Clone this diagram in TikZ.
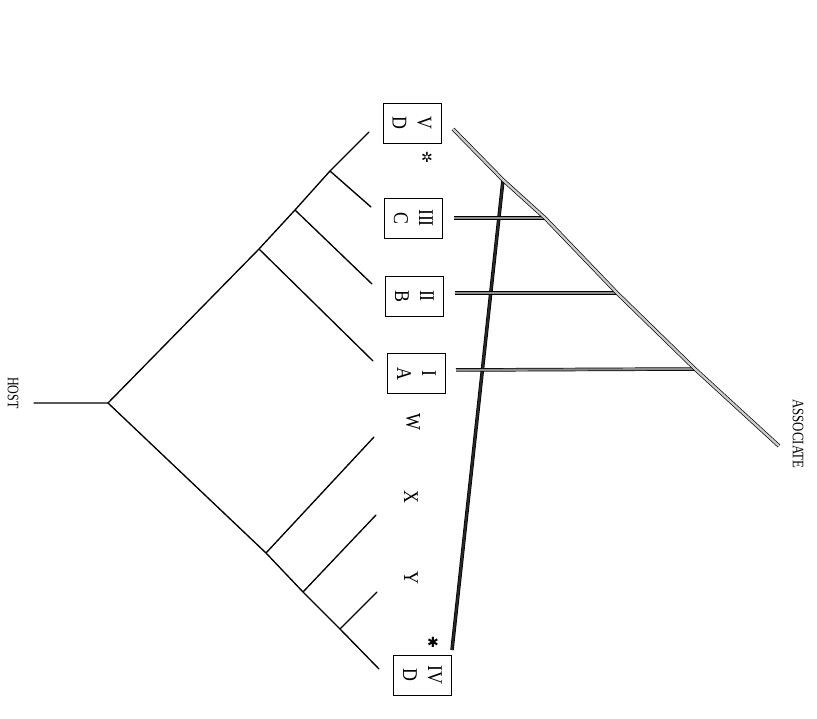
\documentclass[tikz,border=0pt]{standalone}
\usepackage{graphicx}
\usepackage{fontspec}
\setmainfont{Liberation Serif}
\newfontfamily\symfont{DejaVu Sans}
% narrow lettering, as set by the original typewriter face
\newcommand{\narrowtext}[2][0.85]{\scalebox{#1}[1]{#2}}
\begin{document}
\begin{tikzpicture}[x=1pt,y=-1pt,
  hostline/.style={line width=1.35pt,line join=round,line cap=round},
  assocline/.style={draw=black,line width=0.7pt,double=gray!40,double distance=2.3pt,line join=round},
  assocdark/.style={draw=black,line width=0.7pt,double=black!45,double distance=2.1pt,line join=round},
  assocblack/.style={draw=black,line width=0.7pt,double=black!85,double distance=2.1pt,line join=round},
  taxon/.style={draw,line width=0.8pt,rotate=-90,minimum width=40pt,minimum height=58pt,
    inner sep=0pt,align=center,font=\fontsize{21}{25}\selectfont},
  leaf/.style={rotate=-90,font=\fontsize{21}{25}\selectfont},
  caption/.style={rotate=-90,font=\fontsize{16}{19}\selectfont},
  star/.style={font=\symfont\fontsize{14}{16}\selectfont}]
\useasboundingbox (0,0) rectangle (817,719);

% host tree
\coordinate (h0) at (34,403);
\coordinate (hr) at (108,403);
\coordinate (n1) at (259,249);
\coordinate (n2) at (295,210);
\coordinate (n3) at (330,171);
\coordinate (tV) at (369,132);
\coordinate (tC) at (371,207);
\coordinate (tB) at (372,284);
\coordinate (tA) at (373,361);
\coordinate (m1) at (266,553);
\coordinate (m2) at (303,592);
\coordinate (m3) at (340,629);
\coordinate (tW) at (374,437);
\coordinate (tX) at (376,515);
\coordinate (tY) at (377,592);
\coordinate (tIV) at (379,669);

\draw[hostline] (h0) -- (hr) -- (n1) -- (n2) -- (n3) -- (tV);
\draw[hostline] (n3) -- (tC);
\draw[hostline] (n2) -- (tB);
\draw[hostline] (n1) -- (tA);
\draw[hostline] (hr) -- (m1) -- (m2) -- (m3) -- (tIV);
\draw[hostline] (m1) -- (tW);
\draw[hostline] (m2) -- (tX);
\draw[hostline] (m3) -- (tY);

% taxa
\node[taxon] (vd) at (412,123) {\narrowtext{V}\\\narrowtext{D}};
\node[taxon] (iiic) at (413.5,218) {\narrowtext{III}\\\narrowtext{C}};
\node[taxon] (iib) at (414.5,296) {\narrowtext{II}\\\narrowtext{B}};
\node[taxon] (ia) at (416.5,373.5) {\narrowtext{I}\\\narrowtext{A}};
\node[taxon] (ivd) at (422.5,675) {\narrowtext{IV}\\\narrowtext{D}};
\node[leaf] (w) at (413,422) {\narrowtext{W}};
\node[leaf] (x) at (411,497) {\narrowtext{X}};
\node[leaf] (y) at (411,578) {\narrowtext{Y}};
\node[star] (s1) at (427,157) {✲};
\node[star] (s2) at (433,642) {✱};

% associate tree
\coordinate (a0) at (453,129);
\coordinate (a1) at (503,180);
\coordinate (a2) at (545,218);
\coordinate (a3) at (617,293);
\coordinate (a4) at (695,369);
\coordinate (a5) at (779,446);
\coordinate (bC) at (454,218);
\coordinate (bB) at (455,293);
\coordinate (bA) at (456,370);
\coordinate (bIV) at (452,650);

\draw[assocblack] (a1) -- (bIV);
\draw[assocdark] (bC) -- (a2);
\draw[assocdark] (bB) -- (a3);
\draw[assocdark] (bA) -- (a4);
\draw[assocline] (a0) -- (a1) -- (a2) -- (a3) -- (a4) -- (a5);

\node[caption] (host) at (13,393) {\narrowtext[0.75]{HOST}};
\node[caption] (assoc) at (798,434) {\narrowtext[0.8]{ASSOCIATE}};
\end{tikzpicture}
\end{document}
